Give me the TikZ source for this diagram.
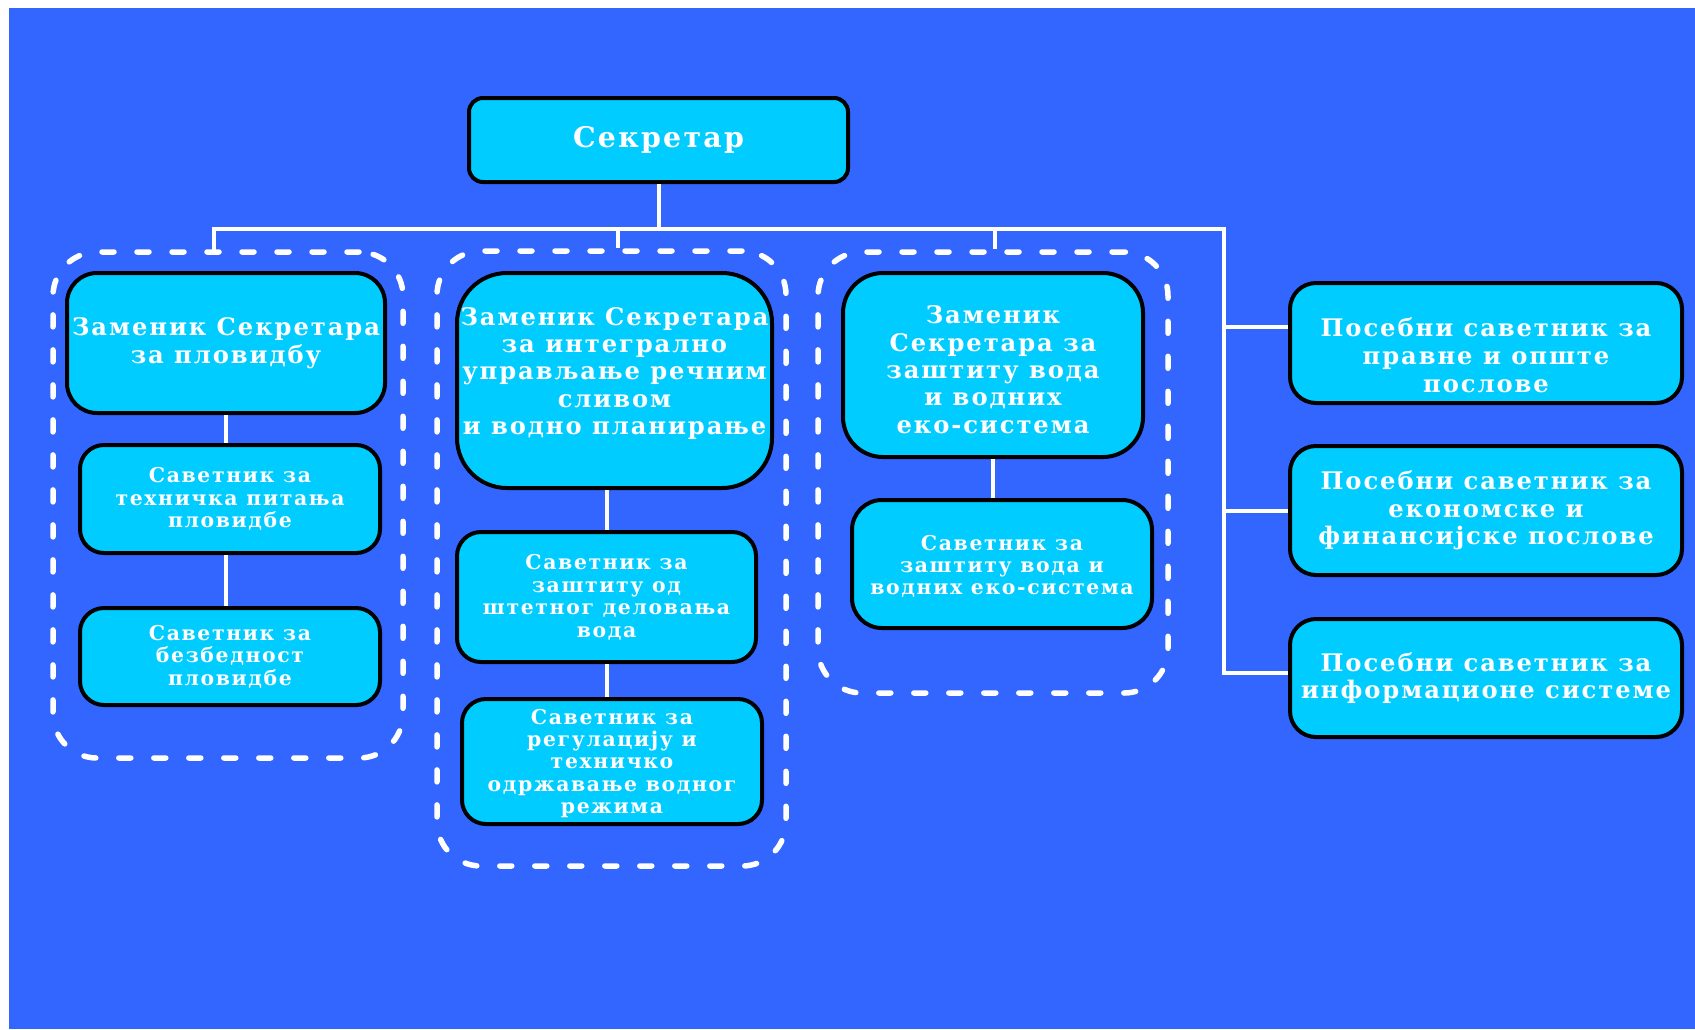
\documentclass[tikz,border=0pt]{standalone}
\usepackage{fontspec}
\newfontfamily\bxfont{DejaVu Serif}[LetterSpace=8]
\definecolor{bgblue}{HTML}{3366FF}
\definecolor{boxcyan}{HTML}{00CCFF}
\newcommand{\shiftbox}[2]{\raisebox{#1}[\height][\depth]{\begin{tabular}{@{}c@{}}#2\end{tabular}}}
\tikzset{
  bx/.style={draw=black, line width=2pt, fill=boxcyan, text=white, align=center, inner sep=0pt},
  grp/.style={draw=white, line width=2.75pt, line cap=round, dash pattern=on 6pt off 11.5pt, rounded corners=22pt, inner sep=0pt},
  conn/.style={draw=white, line width=2pt},
  bigtxt/.style={font=\bxfont\bfseries\fontsize{14.2}{16}\selectfont},
  midtxt/.style={font=\bxfont\bfseries\fontsize{12.1}{13.7}\selectfont},
  smltxt/.style={font=\bxfont\bfseries\fontsize{10.2}{11.2}\selectfont},
  rtxt/.style={font=\bxfont\bfseries\fontsize{12.1}{13.8}\selectfont}
}
\begin{document}
\begin{tikzpicture}[x=0.5pt,y=-0.5pt]
\useasboundingbox (0,0) rectangle (1695,1029);
\fill[white] (0,0) rectangle (1695,1029);
\fill[bgblue] (9,8) rectangle (1695,1029);

% dashed groups
\node[grp, minimum width=175pt, minimum height=253pt] (gL) at (228,505) {};
\node[grp, minimum width=174.5pt, minimum height=307.5pt] (gM) at (611.5,558.5) {};
\node[grp, minimum width=175pt, minimum height=220.5pt] (gR) at (993,472.5) {};

% boxes
\node[bx, bigtxt, minimum width=189.5pt, minimum height=42pt, rounded corners=7pt] (sec) at (658.5,140) {Секретар};

\node[bx, midtxt, minimum width=159pt, minimum height=70pt, rounded corners=15pt] (A) at (226,343) {Заменик Секретара\\за пловидбу};
\node[bx, smltxt, minimum width=150pt, minimum height=54pt, rounded corners=12pt] (B) at (230,499) {Саветник за\\техничка питања\\пловидбе};
\node[bx, smltxt, minimum width=150pt, minimum height=48.5pt, rounded corners=12pt] (C) at (230,656.5) {Саветник за\\безбедност\\пловидбе};

\node[bx, midtxt, minimum width=157.5pt, minimum height=107.5pt, rounded corners=25pt] (D) at (614.5,380.5) {\shiftbox{3pt}{Заменик Секретара\\за интегрално\\управљање речним\\сливом\\и водно планирање}};
\node[bx, smltxt, minimum width=149.5pt, minimum height=65pt, rounded corners=12pt] (E) at (606.5,597) {\shiftbox{-1pt}{Саветник за\\заштиту од\\штетног деловања\\вода}};
\node[bx, smltxt, minimum width=150pt, minimum height=62.5pt, rounded corners=12pt] (F) at (612,761.5) {\shiftbox{-1.5pt}{Саветник за\\регулацију и\\техничко\\одржавање водног\\режима}};

\node[bx, midtxt, minimum width=150pt, minimum height=92pt, rounded corners=20pt] (G) at (993,365) {\shiftbox{-4pt}{Заменик\\Секретара за\\заштиту вода\\и водних\\еко-система}};
\node[bx, smltxt, minimum width=150pt, minimum height=64pt, rounded corners=15pt] (H) at (1002,564) {\shiftbox{-2pt}{Саветник за\\заштиту вода и\\водних еко-система}};

\node[bx, rtxt, minimum width=196pt, minimum height=60pt, rounded corners=13pt] (R1) at (1486,343) {\shiftbox{-8pt}{Посебни саветник за\\правне и опште\\послове}};
\node[bx, rtxt, minimum width=196pt, minimum height=64.5pt, rounded corners=13pt] (R2) at (1486,510.5) {Посебни саветник за\\економске и\\финансијске послове};
\node[bx, rtxt, minimum width=196pt, minimum height=59pt, rounded corners=13pt] (R3) at (1486,678) {Посебни саветник за\\информационе системе};

% bus coordinates
\coordinate (busL) at (214,229);
\coordinate (busM) at (618,229);
\coordinate (busG) at (995,229);
\coordinate (busR) at (1224,229);
\coordinate (j1) at (1224,327);
\coordinate (j2) at (1224,511);
\coordinate (j3) at (1224,673);

% connectors
\draw[conn] (sec.south) -- (sec.south |- busL);
\draw[conn, line cap=rect] (busL |- gL.north) -- (busL) -- (busR) -- (j3);
\draw[conn] (busM) -- (busM |- gM.north);
\draw[conn] (busG) -- (busG |- gR.north);
\draw[conn] (j1) -- (R1.west |- j1);
\draw[conn] (j2) -- (R2.west |- j2);
\draw[conn] (j3) -- (R3.west |- j3);

\draw[conn] (A.south) -- (A.south |- B.north);
\draw[conn] (A.south |- B.south) -- (A.south |- C.north);
\draw[conn] (E.north |- D.south) -- (E.north);
\draw[conn] (E.south) -- (E.south |- F.north);
\draw[conn] (G.south) -- (G.south |- H.north);
\end{tikzpicture}
\end{document}
